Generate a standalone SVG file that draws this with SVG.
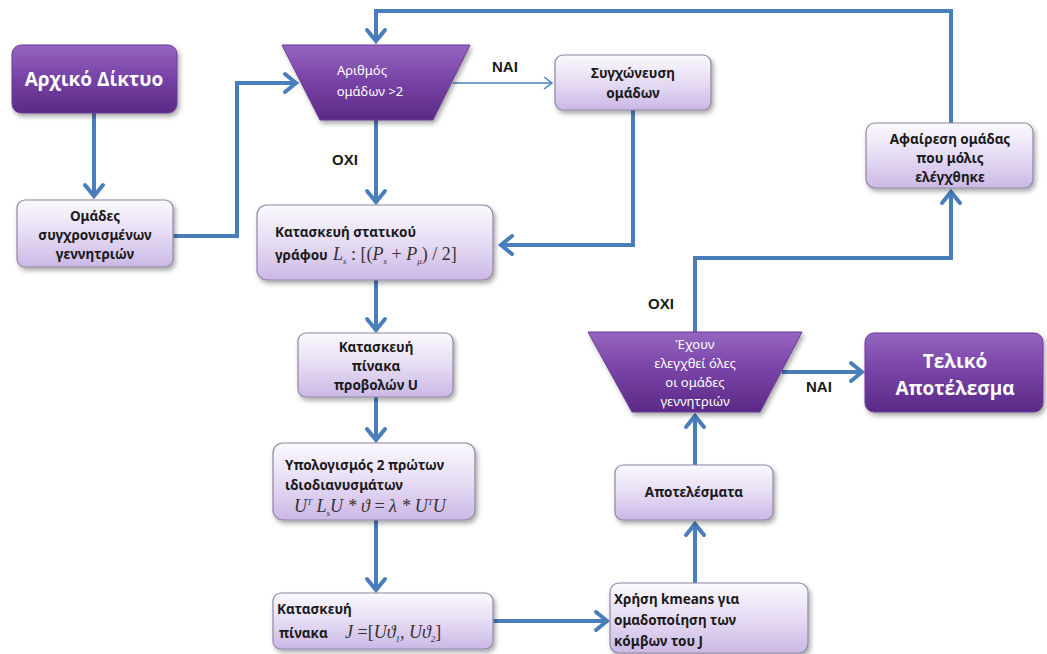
<svg xmlns="http://www.w3.org/2000/svg" width="1047" height="654" viewBox="0 0 1047 654">
  <defs>
    <linearGradient id="darkFill" x1="0" y1="0" x2="0" y2="1">
      <stop offset="0" stop-color="#9466c0"/>
      <stop offset="0.45" stop-color="#7a44a8"/>
      <stop offset="1" stop-color="#5a2a86"/>
    </linearGradient>
    <linearGradient id="lightFill" x1="0" y1="0" x2="0" y2="1">
      <stop offset="0" stop-color="#fbf9fe"/>
      <stop offset="0.5" stop-color="#e6dcf4"/>
      <stop offset="1" stop-color="#cbb8e6"/>
    </linearGradient>
    <filter id="shadow" x="-10%" y="-10%" width="125%" height="135%">
      <feGaussianBlur in="SourceAlpha" stdDeviation="2.5"/>
      <feOffset dx="2" dy="3" result="b"/>
      <feComponentTransfer><feFuncA type="linear" slope="0.35"/></feComponentTransfer>
      <feMerge><feMergeNode/><feMergeNode in="SourceGraphic"/></feMerge>
    </filter>
    <marker id="head" markerUnits="userSpaceOnUse" markerWidth="24" markerHeight="24" viewBox="-14 -12 16 24" refX="0" refY="0" orient="auto">
      <polyline points="-11,-9 0,0 -11,9" fill="none" stroke="#4a7ebb" stroke-width="4" stroke-linejoin="miter" stroke-linecap="round"/>
    </marker>
    <marker id="thinHead" markerUnits="userSpaceOnUse" markerWidth="16" markerHeight="16" viewBox="-10 -8 12 16" refX="0" refY="0" orient="auto">
      <polyline points="-8,-6 0,0 -8,6" fill="none" stroke="#4a7ebb" stroke-width="1.5"/>
    </marker>
    <style>
      .dark { fill: url(#darkFill); stroke: #6a3a96; stroke-width: 1; filter: url(#shadow); }
      .light { fill: url(#lightFill); stroke: #8f86a3; stroke-width: 1.2; filter: url(#shadow); }
      .wire { fill: none; stroke: #4a7ebb; stroke-width: 4; }
      .big { font-family: "Open Sans", "Noto Sans", sans-serif; font-weight: bold; font-size: 19px; fill: #ffffff; text-anchor: middle; }
      .txt { font-family: "Noto Sans", "Open Sans", sans-serif; font-weight: bold; font-size: 13.5px; fill: #1a1a1a; }
      .mid { text-anchor: middle; }
      .wtxt { font-family: "Noto Sans", "Open Sans", sans-serif; font-size: 13px; fill: #ffffff; text-anchor: middle; }
      .lbl { font-family: "Liberation Sans", Arial, sans-serif; font-weight: bold; font-size: 15px; fill: #1a1a1a; }
      .math { font-family: "Liberation Serif", "Times New Roman", serif; font-style: italic; font-size: 18px; fill: #333333; }
      .sub { font-size: 9px; }
    </style>
  </defs>

  <!-- connectors -->
  <g id="connectors">
    <path class="wire" d="M94,113 V196" marker-end="url(#head)"/>
    <path class="wire" d="M173,236 H237 V83 H296" marker-end="url(#head)"/>
    <path class="wire" d="M376,118 V202" marker-end="url(#head)"/>
    <path d="M453,83 H552" fill="none" stroke="#4a7ebb" stroke-width="1.5" marker-end="url(#thinHead)"/>
    <path class="wire" d="M633,110 V245 H501" marker-end="url(#head)"/>
    <path class="wire" d="M376,280 V330" marker-end="url(#head)"/>
    <path class="wire" d="M376,397 V440" marker-end="url(#head)"/>
    <path class="wire" d="M376,520 V590" marker-end="url(#head)"/>
    <path class="wire" d="M493,621 H607" marker-end="url(#head)"/>
    <path class="wire" d="M695,583 V524" marker-end="url(#head)"/>
    <path class="wire" d="M695,465 V416" marker-end="url(#head)"/>
    <path class="wire" d="M695,332 V258 H951 V192" marker-end="url(#head)"/>
    <path class="wire" d="M782,372 H862" marker-end="url(#head)"/>
    <path class="wire" d="M951,123 V11 H376 V41" marker-end="url(#head)"/>
  </g>

  <!-- branch labels -->
  <g id="labels">
    <text class="lbl" x="492" y="72">NAI</text>
    <text class="lbl" x="332" y="165">OXI</text>
    <text class="lbl" x="648" y="309">OXI</text>
    <text class="lbl" x="806" y="392">NAI</text>
  </g>

  <g id="n-start">
    <rect class="dark" x="12" y="45" width="165" height="68" rx="9"/>
    <text class="big" x="94" y="86">Αρχικό Δίκτυο</text>
  </g>

  <g id="n-groups">
    <rect class="light" x="17" y="200" width="156" height="67" rx="8"/>
    <text class="txt mid" x="95" y="221">Ομάδες</text>
    <text class="txt mid" x="95" y="240">συγχρονισμένων</text>
    <text class="txt mid" x="95" y="259">γεννητριών</text>
  </g>

  <g id="n-count">
    <polygon class="dark" points="282,45 470,45 433,120 320,120"/>
    <text class="wtxt" x="362" y="75">Αριθμός</text>
    <text class="wtxt" x="370" y="96">ομάδων  &gt;2</text>
  </g>

  <g id="n-merge">
    <rect class="light" x="555" y="55" width="156" height="55" rx="8"/>
    <text class="txt mid" x="633" y="78">Συγχώνευση</text>
    <text class="txt mid" x="633" y="98">ομάδων</text>
  </g>

  <g id="n-graph">
    <rect class="light" x="257" y="205" width="236" height="75" rx="10"/>
    <text class="txt" x="275" y="237">Κατασκευή στατικού</text>
    <text class="txt" x="275" y="260">γράφου</text>
    <text class="math" x="333" y="260">L<tspan class="sub" dy="4">s</tspan><tspan dy="-4" font-style="normal"> : [(</tspan>P<tspan class="sub" dy="4">s</tspan><tspan dy="-4" font-style="normal"> + </tspan>P<tspan class="sub" dy="4">μ</tspan><tspan dy="-4" font-style="normal">) / 2]</tspan></text>
  </g>

  <g id="n-projection">
    <rect class="light" x="298" y="333" width="155" height="64" rx="8"/>
    <text class="txt mid" x="376" y="352">Κατασκευή</text>
    <text class="txt mid" x="376" y="371">πίνακα</text>
    <text class="txt mid" x="376" y="390">προβολών U</text>
  </g>

  <g id="n-eigen">
    <rect class="light" x="273" y="443" width="202" height="77" rx="10"/>
    <text class="txt" x="285" y="470">Υπολογισμός 2 πρώτων</text>
    <text class="txt" x="285" y="490">ιδιοδιανυσμάτων</text>
    <text class="math" x="294" y="512" font-size="16">U<tspan class="sub" dy="-7">T</tspan><tspan dy="7"> L</tspan><tspan class="sub" dy="4">s</tspan><tspan dy="-4">U * ϑ </tspan><tspan font-style="normal">=</tspan> λ * U<tspan class="sub" dy="-7">T</tspan><tspan dy="7">U</tspan></text>
  </g>

  <g id="n-jmatrix">
    <rect class="light" x="273" y="593" width="220" height="56" rx="8"/>
    <text class="txt" x="275" y="614" dx="2">Κατασκευή</text>
    <text class="txt" x="279" y="638">πίνακα</text>
    <text class="math" x="345" y="638" font-size="16">J <tspan font-style="normal">=[</tspan>Uϑ<tspan class="sub" dy="4">1</tspan><tspan dy="-4" font-style="normal">, </tspan>Uϑ<tspan class="sub" dy="4">2</tspan><tspan dy="-4" font-style="normal">]</tspan></text>
  </g>

  <g id="n-kmeans">
    <rect class="light" x="610" y="583" width="198" height="70" rx="9"/>
    <text class="txt" x="614" y="604">Χρήση kmeans για</text>
    <text class="txt" x="614" y="625">ομαδοποίηση των</text>
    <text class="txt" x="614" y="646">κόμβων του J</text>
  </g>

  <g id="n-results">
    <rect class="light" x="615" y="465" width="158" height="55" rx="8"/>
    <text class="txt mid" x="694" y="497">Αποτελέσματα</text>
  </g>

  <g id="n-checked">
    <polygon class="dark" points="588,332 802,332 760,412 632,412"/>
    <text class="wtxt" x="695" y="349">Έχουν</text>
    <text class="wtxt" x="695" y="368">ελεγχθεί όλες</text>
    <text class="wtxt" x="695" y="387">οι ομάδες</text>
    <text class="wtxt" x="695" y="406">γεννητριών</text>
  </g>

  <g id="n-final">
    <rect class="dark" x="865" y="333" width="178" height="79" rx="9"/>
    <text class="big" x="955" y="368">Τελικό</text>
    <text class="big" x="955" y="395">Αποτέλεσμα</text>
  </g>

  <g id="n-remove">
    <rect class="light" x="866" y="123" width="167" height="65" rx="9"/>
    <text class="txt mid" x="950" y="144">Αφαίρεση ομάδας</text>
    <text class="txt mid" x="950" y="163">που μόλις</text>
    <text class="txt mid" x="950" y="182">ελέγχθηκε</text>
  </g>
</svg>
